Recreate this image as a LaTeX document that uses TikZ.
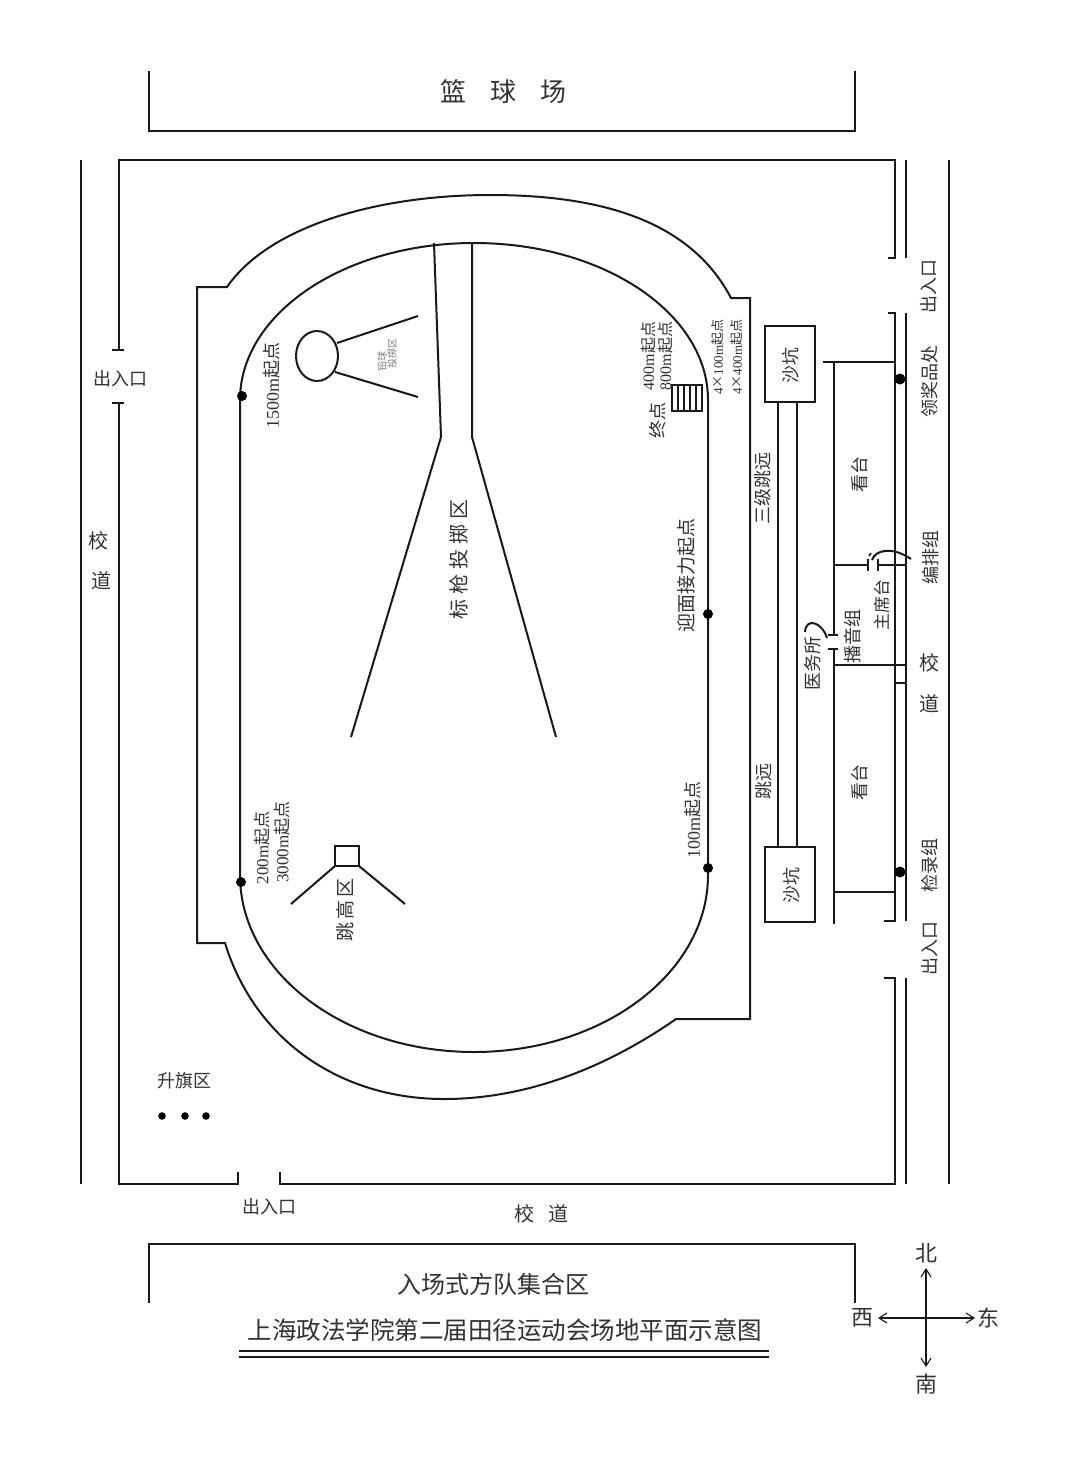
\documentclass[tikz,border=0pt]{standalone}
\usepackage{fontspec}
\usetikzlibrary{arrows.meta}
\setmainfont{Noto Sans CJK SC}
\newfontfamily\latf{Liberation Serif}
\newcommand{\fsz}[1]{\fontsize{#1pt}{#1pt}\selectfont}
\newcommand{\lf}[1]{{\latf #1}}
\definecolor{ink}{RGB}{25,25,25}
\definecolor{txt}{RGB}{50,50,50}
\tikzset{
  wall/.style={draw=ink,line width=2pt,line join=miter},
  thin wall/.style={draw=ink,line width=1.6pt},
  heavy/.style={draw=ink,line width=2.6pt},
  lab/.style={inner sep=0pt,text=txt},
  rot/.style={lab,rotate=90},
  spot/.style={fill=black,draw=none},
  barb/.style={-{Straight Barb[length=8pt,width=10pt,line width=1.1pt]}},
}
\begin{document}
\begin{tikzpicture}[x=1pt,y=-1pt]
\useasboundingbox (0,0) rectangle (1080,1466);
\fill[white] (0,0) rectangle (1080,1466);
% top and bottom courts
\draw[heavy] (149,71) -- (149,131) -- (855,131) -- (855,71);
\draw[heavy] (149,1303) -- (149,1244) -- (855,1244) -- (855,1303);
% enclosure
\draw[heavy] (112,350) -- (124,350);
\draw[heavy] (119,350) -- (119,160) -- (895,160) -- (895,258) -- (888,258);
\draw[heavy] (112,403) -- (124,403);
\draw[heavy] (119,403) -- (119,1184) -- (238,1184) -- (238,1172);
\draw[heavy] (280,1172) -- (280,1184) -- (895,1184) -- (895,978) -- (884,978);
\draw[heavy] (888,313) -- (895,313) -- (895,921) -- (884,921);
\draw[wall] (81,160) -- (81,1184);
\draw[wall] (949,160) -- (949,1184);
\draw[heavy] (906,160) -- (906,258);
\draw[heavy] (906,313) -- (906,921);
\draw[heavy] (906,978) -- (906,1184);
% track
\draw[wall] (240,400) arc[start angle=180,end angle=0,x radius=234pt,y radius=157pt]
  -- (708,875) arc[start angle=0,end angle=-180,x radius=234pt,y radius=177pt] -- cycle;
\draw[wall] (197,943) -- (197,287) -- (227,287)
  .. controls (270,225) and (380,195) .. (490,195)
  .. controls (600,195) and (690,220) .. (731,298)
  -- (750,298) -- (750,1019) -- (676,1019)
  .. controls (610,1065) and (530,1099) .. (444,1099)
  .. controls (340,1099) and (255,1040) .. (225,943) -- cycle;
% javelin
\draw[wall] (434,243) -- (441,437) -- (351,737);
\draw[wall] (472,243) -- (472,437) -- (556,737);
% shot put
\draw[wall] (317,356) ellipse[x radius=21pt,y radius=25pt];
\draw[wall] (337,343) -- (418,316);
\draw[wall] (335,372) -- (418,397);
% finish
\draw[wall] (672,385) rectangle (702,411);
\foreach \x in {678,684,690,696} \draw[wall] (\x,385) -- (\x,411);
% high jump
\draw[heavy] (335,846) rectangle (359,866);
\draw[wall] (335,866) -- (291,904);
\draw[wall] (359,866) -- (405,904);
% sand pits and runway
\draw[heavy] (765,326) rectangle (815,402);
\draw[heavy] (765,847) rectangle (815,922);
\draw[wall] (778,402) -- (778,847);
\draw[wall] (797,402) -- (797,847);
% stands
\draw[wall] (823,362) -- (895,362);
\draw[heavy] (834,362) -- (834,635);
\draw[heavy] (834,649) -- (834,924);
\draw[wall] (828,635) -- (838,635);
\draw[wall] (828,649) -- (838,649);
\draw[wall] (834,565) -- (868,565);
\draw[wall] (878,565) -- (906,565);
\draw[wall] (868,559) -- (868,571);
\draw[wall] (878,559) -- (878,571);
\draw[thin wall] (871,553) -- (869,556);
\draw[wall] (872,560) .. controls (875,550) and (892,546) .. (911,559);
\draw[wall] (827,638) .. controls (822,622) and (806,617) .. (805,632);
\draw[wall] (834,665) -- (906,665);
\draw[wall] (895,683) -- (906,683);
\draw[wall] (834,892) -- (895,892);
% dots
\foreach \p in {(242,396),(241,882),(708,614),(708,868)} \fill[spot] \p circle[radius=5pt];
\foreach \p in {(900,379),(900,872)} \fill[spot] \p circle[radius=5.5pt];
\foreach \p in {(162,1116),(185,1116),(206,1116)} \fill[spot] \p circle[radius=3.8pt];
% title rules
\draw[heavy] (239,1351) -- (769,1351);
\draw[heavy] (239,1357) -- (769,1357);
% compass
\coordinate (cc) at (926,1318);
\coordinate (cn) at (926,1268);
\coordinate (cs) at (926,1367);
\coordinate (cw) at (878,1318);
\coordinate (ce) at (975,1318);
\draw[thin wall,barb] (cc) -- (cn);
\draw[thin wall,barb] (cc) -- (cs);
\draw[heavy,barb] (cc) -- (cw);
\draw[heavy,barb] (cc) -- (ce);
% labels
\node[lab,font=\fsz{26}] (t1) at (503,92) {篮\hspace{24pt}球\hspace{24pt}场};
\node[lab,font=\fsz{18}] (t2) at (120,379) {出入口};
\node[lab,font=\fsz{20}] (t3) at (98,541) {校};
\node[lab,font=\fsz{20}] (t4) at (101,581) {道};
\node[lab,font=\fsz{18}] (t5) at (269,1207) {出入口};
\node[lab,font=\fsz{20}] (t6) at (541,1214) {校\hspace{14pt}道};
\node[lab,font=\fsz{18}] (t7) at (184,1081) {升旗区};
\node[lab,font=\fsz{24}] (t8) at (493,1284) {入场式方队集合区};
\node[lab,font=\fsz{24.5}] (t9) at (505,1330) {上海政法学院第二届田径运动会场地平面示意图};
\node[lab,font=\fsz{22}] (n1) at (926,1253) {北};
\node[lab,font=\fsz{22}] (n2) at (926,1384) {南};
\node[lab,font=\fsz{22}] (n3) at (862,1318) {西};
\node[lab,font=\fsz{22}] (n4) at (988,1318) {东};
\node[rot,font=\fsz{18}] (e1) at (929,286) {出入口};
\node[rot,font=\fsz{18}] (e2) at (930,381) {领奖品处};
\node[rot,font=\fsz{18}] (e3) at (931,557) {编排组};
\node[lab,font=\fsz{20}] (e4) at (929,663) {校};
\node[lab,font=\fsz{20}] (e5) at (929,704) {道};
\node[rot,font=\fsz{18}] (e6) at (930,865) {检录组};
\node[rot,font=\fsz{18}] (e7) at (930,948) {出入口};
\node[rot,font=\fsz{18}] (s1) at (791,365) {沙坑};
\node[rot,font=\fsz{18}] (s2) at (792,885) {沙坑};
\node[rot,font=\fsz{18}] (s3) at (763,488) {三级跳远};
\node[rot,font=\fsz{18}] (s4) at (764,781) {跳远};
\node[rot,font=\fsz{18}] (s5) at (860,474) {看台};
\node[rot,font=\fsz{18}] (s6) at (860,782) {看台};
\node[rot,font=\fsz{17}] (s7) at (882,605) {主席台};
\node[rot,font=\fsz{18}] (s8) at (853,636) {播音组};
\node[rot,font=\fsz{18}] (s9) at (813,663) {医务所};
\node[rot,font=\fsz{19}] (r1) at (686,575) {迎面接力起点};
\node[rot,font=\fsz{18}] (r2) at (693,820) {\lf{100m}起点};
\node[rot,font=\fsz{16}] (r3) at (648,356) {\lf{400m}起点};
\node[rot,font=\fsz{16}] (r4) at (665,356) {\lf{800m}起点};
\node[rot,font=\fsz{18}] (r5) at (658,420) {终点};
\node[rot,font=\fsz{13}] (r6) at (718,357) {\lf{4}×\lf{100m}起点};
\node[rot,font=\fsz{13}] (r7) at (737,357) {\lf{4}×\lf{400m}起点};
\node[rot,font=\fsz{18}] (l1) at (272,385) {\lf{1500m}起点};
\node[rot,font=\fsz{17}] (l2) at (262,848) {\lf{200m}起点};
\node[rot,font=\fsz{17}] (l3) at (282,842) {\lf{3000m}起点};
\node[rot,font=\fsz{19}] (l4) at (345,910) {跳\hspace{3pt}高\hspace{3pt}区};
\node[rot,font=\fsz{20}] (l5) at (459,559) {标\hspace{5pt}枪\hspace{5pt}投\hspace{5pt}掷\hspace{5pt}区};
\node[rot,font=\fsz{10},text=gray] (l6) at (382,361) {铅球};
\node[rot,font=\fsz{10},text=gray] (l7) at (392,353) {投掷区};
\end{tikzpicture}
\end{document}
